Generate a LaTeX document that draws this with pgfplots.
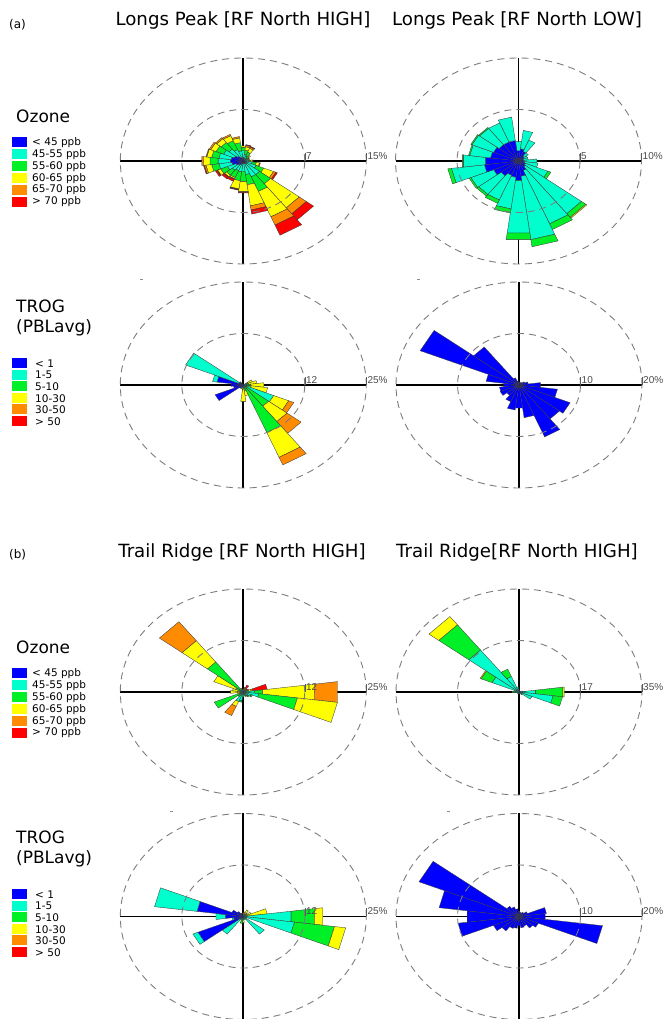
\documentclass[border=0pt]{standalone}
\usepackage{pgfplots}
\pgfplotsset{compat=1.18}
\usepackage{pgfplotstable}
\usepackage{fontspec}
\setmainfont{DejaVu Sans}
\newfontfamily\labfont{Liberation Sans}

% class colours (concentration bins)
\definecolor{cat1}{RGB}{0,0,255}
\definecolor{cat2}{RGB}{0,255,204}
\definecolor{cat3}{RGB}{0,240,40}
\definecolor{cat4}{RGB}{255,255,0}
\definecolor{cat5}{RGB}{255,140,0}
\definecolor{cat6}{RGB}{255,0,0}
\definecolor{edgecol}{RGB}{60,60,60}
\definecolor{ringcol}{RGB}{125,125,125}

% frequency (%) per 15-degree sector, one column per class (stacked outward)
\pgfplotstableread{
d c1 c2 c3 c4 c5 c6
0 0.5 1.0 0.5 0.2 0 0
15 0.3 0.7 0.6 0.5 0.2 0.1
30 0.3 0.5 0.6 0.6 0.2 0.1
45 0.2 0.4 0.3 0.2 0 0
60 0.2 0.3 0.2 0.1 0 0
75 0.2 0.3 0.2 0.1 0 0
90 0.2 0.4 0.3 0.2 0.1 0
105 0.3 0.8 0.5 0.4 0.1 0
120 0.3 1.4 1.0 1.3 0.3 0.2
135 0.5 2.0 1.7 4.4 1.1 1.1
150 0.5 2.0 2.3 4.0 1.3 1.6
165 0.4 1.6 1.5 3.1 0.6 0.6
180 0.3 1.2 1.5 1.5 0.1 0.1
195 0.4 1.2 1.3 1.2 0.1 0.1
210 0.5 1.0 1.1 0.2 0.1 0.3
225 0.7 1.0 0.9 0.3 0.1 0.3
240 1.0 1.1 0.9 0.4 0.1 0.2
255 1.4 1.6 0.9 0.7 0.2 0.1
270 1.6 1.5 1.0 0.8 0.2 0
285 1.5 1.5 0.9 0.6 0.1 0
300 1.2 1.4 1.0 0.7 0.2 0
315 0.9 1.3 1.2 0.7 0.2 0
330 0.6 1.2 1.4 0.8 0.2 0
345 0.5 1.0 1.2 0.7 0.2 0
}\tLPhighOz

\pgfplotstableread{
d c1 c2 c3 c4
0 1.0 0.9 0 0
15 1.2 1.8 0 0
30 1.0 1.2 0 0
45 0.6 0.4 0 0
60 0.5 0.3 0 0
75 0.4 0.4 0 0
90 0.4 1.1 0 0
105 0.5 1.1 0 0
120 0.6 2.0 0.25 0
135 0.7 5.75 0.45 0.1
150 1.0 5.6 0.6 0
165 1.5 6.2 0.7 0
180 1.9 5.15 0.65 0
195 1.6 3.1 0.4 0
210 1.5 2.6 0.35 0
225 1.8 2.3 0.2 0
240 2.2 2.0 0.15 0
255 2.8 2.7 0.3 0
270 2.7 1.8 0.1 0
285 2.3 1.7 0.1 0
300 2.2 1.9 0.1 0
315 2.0 2.0 0.1 0
330 2.0 2.0 0 0
345 2.0 2.3 0 0
}\tLPlowOz

\pgfplotstableread{
d c1 c2 c3 c4 c5
0 0.1 0 0 0 0
15 0.2 0 0 0 0
30 0.2 0 0 0 0
45 0.2 0.1 0 0 0
60 0.2 0.3 0.5 1.0 0
75 0.2 0.3 0.6 1.7 0
90 0.2 0.5 0.8 2.7 0
105 0.2 0.6 0.8 3.4 0
120 0.3 6.4 0 3.3 1.1
135 0.3 0.5 5.7 4.7 3.6
150 0.3 0.8 11.4 6.5 2.0
165 0.2 0.4 0.8 1.2 0
180 0.2 0.3 0.5 3.0 0
195 0.3 0.2 0.2 0.3 0
210 0.5 0.2 0 0 0
225 1.0 0 0 0 0
240 6.2 0 0 0 0
255 2.0 0 0 0 0
270 2.5 0 0 0 0
285 5.4 0.9 0 0 0
300 1.0 11.7 0 0 0
315 0.8 0.2 0 0 0
330 0.3 0 0 0 0
345 0.2 0 0 0 0
}\tLPhighTr

\pgfplotstableread{
d c1
0 0.5
15 0.5
30 0.5
45 0.6
60 1.0
75 1.5
90 3.5
105 6.3
120 9.0
135 8.3
150 10.9
165 6.4
180 4.5
195 4.9
210 3.5
225 2.5
240 3.3
255 3.2
270 2.5
285 5.4
300 17.4
315 9.3
330 1.5
345 0.8
}\tLPlowTr

\pgfplotstableread{
d c1 c2 c3 c4 c5 c6
0 0.1 0.2 0.2 0.2 0 0
15 0.1 0.2 0.2 0.2 0.1 0.3
30 0.1 0.3 0.3 0.3 0.2 0.6
45 0.1 0.2 0.2 0.2 0 0.3
60 0.1 0.3 0.2 0.2 0.1 0.3
75 0.1 0.5 0.5 0.5 0.4 2.9
90 0.3 2.0 1.6 10.7 4.7 0
105 0.2 3.0 7.9 8.2 0 0
120 0.2 1.5 0.3 0 0 0
135 0.2 1.0 0.3 0 0 0
150 0.2 0.8 0.2 0 0 0
165 0.1 0.6 0.2 0 0 0
180 0.1 0.3 0.8 0 0 0
195 0.2 2.0 0.3 0 0 0
210 0.2 2.3 0 1.3 2.4 0
225 0.2 0.8 0.4 0 0 0
240 0.2 0.8 5.4 0 0 0
255 0.1 0.3 0.3 0.5 0 0
270 0.1 0.3 0.3 1.9 0 0
285 0.1 0.3 0.3 1.5 0 0
300 0.2 0.5 1.0 4.8 0 0
315 0.2 0.8 8.2 6.5 5.8 0
330 0.1 0.3 0.3 0.3 0 0
345 0.1 0.2 0.2 0.2 0 0
}\tTRoneOz

\pgfplotstableread{
d c1 c2 c3 c4
0 0.2 0.5 0 0
15 0.2 0.3 0 0
30 0.1 0.3 0 0
45 0.1 0.3 0 0
60 0.1 0.3 0 0
75 0.2 0.8 0 0
90 0.2 4.5 7.9 0.4
105 0.2 9.6 2.7 0
120 0.2 3.8 0 0
135 0.2 1.0 0 0
150 0.1 0.6 0 0
165 0.1 0.4 0 0
180 0.1 0.4 0 0
195 0.1 0.4 0 0
210 0.1 0.5 0 0
225 0.1 0.5 0 0
240 0.1 0.5 0 0
255 0.1 0.6 0 0
270 0.2 1.0 0.8 0
285 0.2 1.2 0 0
300 0.2 8.1 3.4 0.3
315 0.3 17.7 10.8 3.5
330 0.2 5.5 2.7 0
345 0.2 1.5 0 0
}\tTRtwoOz

\pgfplotstableread{
d c1 c2 c3 c4
0 0.1 0.2 0.2 0.3
15 0.1 0.2 0.2 0.6
30 0.1 0.3 0.3 1.0
45 0.1 0.2 0.2 0.5
60 0.1 0.3 0.3 1.0
75 0.1 0.4 0.4 4.0
90 0.3 9.5 4.8 1.7
105 0.3 10.2 8.2 2.3
120 0.2 0.6 0 0
135 0.2 5.2 0 0
150 0.2 0.6 0 0
165 0.1 0.3 0.3 0
180 0.2 0.3 0.4 0.6
195 0.2 0.5 1.0 0
210 0.2 0.8 0 0
225 0.5 4.9 0 0
240 10.0 1.1 0 0
255 2.0 0.3 0 0
270 3.7 1.9 0 0
285 9.5 8.7 0 0
300 2.5 0 0 0
315 1.5 0 0 0
330 0.8 0 0 0
345 0.3 0 0 0
}\tTRoneTr

\pgfplotstableread{
d c1
0 1.0
15 0.8
30 0.8
45 1.0
60 1.5
75 4.5
90 4.3
105 13.7
120 3.4
135 2.8
150 2.0
165 2.2
180 1.8
195 2.3
210 2.5
225 3.5
240 4.5
255 10.0
270 8.5
285 13.1
300 17.6
315 2.5
330 2.0
345 1.5
}\tTRtwoTr

% one stacked wedge per sector and class; compass bearing d -> polar angle 90-d
\newcommand\rose[2]{%
  \pgfplotstablegetrowsof{#1}%
  \pgfmathtruncatemacro\nrows{\pgfplotsretval-1}%
  \pgfplotsforeachungrouped \ri in {0,...,\nrows}{%
    \pgfplotstablegetelem{\ri}{d}\of{#1}\let\dd\pgfplotsretval
    \def\rin{0}%
    \pgfmathsetmacro\angA{90-\dd-7.5}%
    \pgfmathsetmacro\angB{90-\dd+7.5}%
    \pgfplotsforeachungrouped \ci in {1,...,#2}{%
      \edef\getv{\noexpand\pgfplotstablegetelem{\ri}{c\ci}\noexpand\of\noexpand#1}\getv
      \let\vv\pgfplotsretval
      \pgfmathsetmacro\rout{\rin+\vv}%
      \ifdim\vv pt>0pt
        \edef\cmd{\noexpand\addplot[data cs=polar, fill=cat\ci, draw=edgecol, line width=0.35bp]
          coordinates {(\angA,\rin) (\angA,\rout) (\angB,\rout) (\angB,\rin) (\angA,\rin)};}%
        \cmd
      \fi
      \let\rin\rout
    }%
  }%
}

\pgfplotsset{rose/.style={hide axis, scale only axis, width=246bp, height=206bp,
  xmin=-#1, xmax=#1, ymin=-#1, ymax=#1, clip=false, anchor=center}}

\newcommand\crosslines[2]{%
  \draw[line width=1.8bp] (#1bp-123bp,#2bp) -- (#1bp+123bp,#2bp);
  \draw[line width=1.8bp] (#1bp,#2bp-103bp) -- (#1bp,#2bp+103bp);
}
\newcommand\rings[4]{%
  \draw[ringcol, line width=0.9bp, dash pattern=on 7bp off 5bp] (#1bp,#2bp) ellipse [x radius=123bp, y radius=103bp];
  \draw[ringcol, line width=0.9bp, dash pattern=on 7bp off 5bp] (#1bp,#2bp) ellipse [x radius=61.5bp, y radius=51.5bp];
  \draw[black!65, line width=0.6bp] (#1bp+61.5bp,#2bp) -- ++(0,8bp);
  \draw[black!65, line width=0.6bp] (#1bp+123bp,#2bp) -- ++(0,8bp);
  \node[anchor=south west, inner sep=0pt, text=black!70, font=\labfont\fontsize{10bp}{11bp}\selectfont] at (#1bp+62.5bp,#2bp+1.5bp) {#3};
  \node[anchor=south west, inner sep=0pt, text=black!70, font=\labfont\fontsize{10bp}{11bp}\selectfont] at (#1bp+124bp,#2bp+1.5bp) {#4};
}
% legend row: class, y of row centre, text x, label
\newcommand\legendrow[4]{%
  \fill[cat#1] (12bp,#2bp-5bp) rectangle (27bp,#2bp+5bp);
  \node[anchor=west, inner sep=0pt, font=\fontsize{10.5bp}{12bp}\selectfont] at (#3bp,#2bp) {#4};
}

\begin{document}
\begin{tikzpicture}
\fill[white] (0,0) rectangle (665bp,1019bp);
\useasboundingbox (0,0) rectangle (665bp,1019bp);

% panel letters and column titles
\node[anchor=base west, inner sep=0pt, font=\fontsize{12bp}{14bp}\selectfont] at (9bp,990bp) {(a)};
\node[anchor=base west, inner sep=0pt, font=\fontsize{12bp}{14bp}\selectfont] at (9bp,460bp) {(b)};
\node[anchor=base, inner sep=0pt, font=\fontsize{18.2bp}{21bp}\selectfont] at (243bp,993bp) {Longs Peak [RF North HIGH]};
\node[anchor=base, inner sep=0pt, font=\fontsize{18.2bp}{21bp}\selectfont] at (517bp,993bp) {Longs Peak [RF North LOW]};
\node[anchor=base, inner sep=0pt, font=\fontsize{18.2bp}{21bp}\selectfont] at (242bp,461bp) {Trail Ridge [RF North HIGH]};
\node[anchor=base, inner sep=0pt, font=\fontsize{18.2bp}{21bp}\selectfont] at (517bp,461bp) {Trail Ridge[RF North HIGH]};

% row labels and class legends
\foreach \off in {0,531}{
  \node[anchor=base west, inner sep=0pt, font=\fontsize{17bp}{20bp}\selectfont] at (16bp,896bp-\off bp) {Ozone};
  \node[anchor=base west, inner sep=0pt, font=\fontsize{17bp}{20bp}\selectfont] at (16bp,706bp-\off bp) {TROG};
  \node[anchor=base west, inner sep=0pt, font=\fontsize{17bp}{20bp}\selectfont] at (16bp,686bp-\off bp) {(PBLavg)};
}
\foreach \off in {0,531}{
  \legendrow{1}{880-\off}{32}{< 45 ppb}
  \legendrow{2}{868-\off}{32}{45-55 ppb}
  \legendrow{3}{856-\off}{32}{55-60 ppb}
  \legendrow{4}{844-\off}{32}{60-65 ppb}
  \legendrow{5}{832-\off}{32}{65-70 ppb}
  \legendrow{6}{820.5-\off}{32}{> 70 ppb}
  \legendrow{1}{658-\off}{35}{< 1}
  \legendrow{2}{646.5-\off}{35}{1-5}
  \legendrow{3}{635-\off}{35}{5-10}
  \legendrow{4}{623-\off}{35}{10-30}
  \legendrow{5}{612-\off}{35}{30-50}
  \legendrow{6}{600-\off}{35}{> 50}
}

% small stray marks at the top left of the lower panels
\draw[black!45, line width=0.7bp] (140bp,740bp) -- (143bp,740bp);
\draw[black!45, line width=0.7bp] (417bp,740bp) -- (420bp,740bp);
\draw[black!45, line width=0.7bp] (170bp,208bp) -- (173bp,208bp);
\draw[black!45, line width=0.7bp] (447bp,208bp) -- (450bp,208bp);

% compass cross lines (behind the wedges)
\crosslines{243.3}{858}
\crosslines{518.5}{858}
\crosslines{243.3}{634}
\crosslines{519}{634}
\crosslines{243.3}{327}
\crosslines{519}{327}
\crosslines{243.3}{102.5}
\crosslines{519}{102.5}

\begin{axis}[rose=15, at={(243.3bp,858bp)}] \rose{\tLPhighOz}{6} \end{axis}
\begin{axis}[rose=10, at={(518.5bp,858bp)}] \rose{\tLPlowOz}{4} \end{axis}
\begin{axis}[rose=25, at={(243.3bp,634bp)}] \rose{\tLPhighTr}{5} \end{axis}
\begin{axis}[rose=20, at={(519bp,634bp)}] \rose{\tLPlowTr}{1} \end{axis}
\begin{axis}[rose=25, at={(243.3bp,327bp)}] \rose{\tTRoneOz}{6} \end{axis}
\begin{axis}[rose=35, at={(519bp,327bp)}] \rose{\tTRtwoOz}{4} \end{axis}
\begin{axis}[rose=25, at={(243.3bp,102.5bp)}] \rose{\tTRoneTr}{4} \end{axis}
\begin{axis}[rose=20, at={(519bp,102.5bp)}] \rose{\tTRtwoTr}{1} \end{axis}

% frequency rings with their labels
\rings{243.3}{858}{7}{15\%}
\rings{518.5}{858}{5}{10\%}
\rings{243.3}{634}{12}{25\%}
\rings{519}{634}{10}{20\%}
\rings{243.3}{327}{12}{25\%}
\rings{519}{327}{17}{35\%}
\rings{243.3}{102.5}{12}{25\%}
\rings{519}{102.5}{10}{20\%}
\end{tikzpicture}
\end{document}
